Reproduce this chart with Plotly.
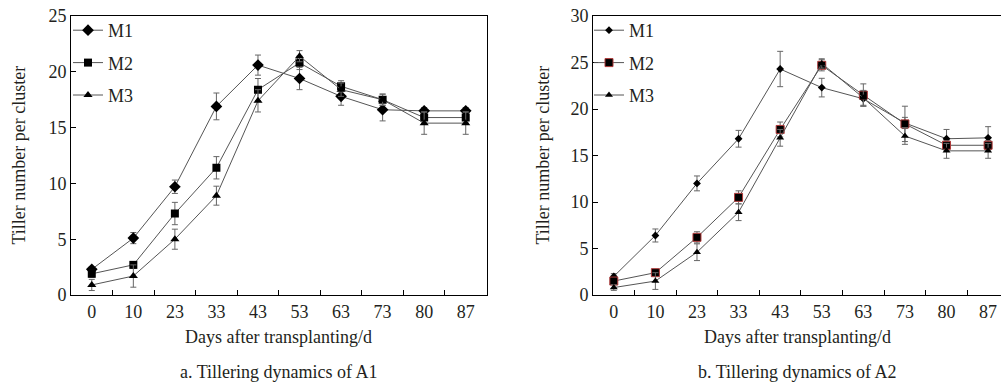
import plotly.graph_objects as go

days = ["0", "10", "23", "33", "43", "53", "63", "73", "80", "87"]
series_names = ["M1", "M2", "M3"]

# Panel a: A1
a_m1 = [2.3, 5.1, 9.7, 16.9, 20.6, 19.4, 17.8, 16.6, 16.5, 16.5]
a_m2 = [1.9, 2.7, 7.3, 11.4, 18.4, 20.8, 18.7, 17.5, 15.9, 15.9]
a_m3 = [0.9, 1.7, 5.0, 8.9, 17.4, 21.4, 18.4, 17.5, 15.4, 15.4]
a_m1_err = [0.2, 0.5, 0.6, 1.2, 0.9, 1.0, 0.8, 1.0, 0.3, 0.3]
a_m2_err = [0.3, 0.3, 1.0, 1.0, 1.0, 0.6, 0.5, 0.5, 0.5, 0.5]
a_m3_err = [0.5, 1.0, 0.9, 0.85, 1.0, 0.5, 0.6, 0.5, 1.0, 1.0]

# Panel b: A2
b_m1 = [2.0, 6.4, 12.0, 16.8, 24.3, 22.3, 21.1, 18.5, 16.8, 16.9]
b_m2 = [1.5, 2.4, 6.2, 10.5, 17.8, 24.7, 21.5, 18.4, 16.1, 16.1]
b_m3 = [0.8, 1.5, 4.6, 8.9, 16.9, 24.9, 21.2, 17.1, 15.5, 15.5]
b_m1_err = [0.3, 0.7, 0.8, 0.9, 1.9, 1.0, 0.8, 0.6, 1.0, 1.2]
b_m2_err = [0.3, 0.3, 0.6, 0.7, 0.8, 0.6, 1.2, 1.9, 0.5, 0.5]
b_m3_err = [0.3, 0.9, 0.9, 0.9, 0.9, 0.5, 0.8, 0.9, 0.8, 0.8]

W, H = 1001, 383


def px(x):
    return x / W


def py(y):
    return 1 - y / H


FONT = "Liberation Serif, Times New Roman, serif"
TXT = "#231f20"
LINE = "#555555"
ERR = "#666666"

fig = go.Figure()


def add(xaxis, yaxis, legend, name, y, err, symbol, size, mline_color, mline_w):
    fig.add_trace(go.Scatter(
        x=days, y=y, name=name, mode="lines+markers",
        xaxis=xaxis, yaxis=yaxis, legend=legend,
        line=dict(color=LINE, width=1),
        marker=dict(symbol=symbol, size=size, color="#000000",
                    line=dict(color=mline_color, width=mline_w)),
        error_y=dict(type="data", array=err, visible=True,
                     color=ERR, thickness=1, width=3),
    ))


add("x", "y", "legend", "M1", a_m1, a_m1_err, "diamond", 9, "#000000", 0)
add("x", "y", "legend", "M2", a_m2, a_m2_err, "square", 8, "#000000", 0)
add("x", "y", "legend", "M3", a_m3, a_m3_err, "triangle-up", 8, "#000000", 0)
add("x2", "y2", "legend2", "M1", b_m1, b_m1_err, "diamond", 6, "#000000", 0)
add("x2", "y2", "legend2", "M2", b_m2, b_m2_err, "square", 8, "#b03a3a", 1)
add("x2", "y2", "legend2", "M3", b_m3, b_m3_err, "triangle-up", 7, "#000000", 0)

y_top = py(16)
y_bot = py(295)

xcommon = dict(type="category", categoryorder="array", categoryarray=days,
               tickson="boundaries", ticks="inside", ticklen=5, tickwidth=1,
               tickcolor="#000", showline=True, linecolor="#000", linewidth=1,
               mirror=True, showgrid=False, zeroline=False, automargin=False,
               ticklabeloverflow="allow",
               tickfont=dict(family=FONT, size=18, color=TXT))
ycommon = dict(ticks="inside", ticklen=5, tickwidth=1, tickcolor="#000",
               showline=True, linecolor="#000", linewidth=1,
               showgrid=False, zeroline=False, automargin=False,
               ticklabeloverflow="allow",
               tickfont=dict(family=FONT, size=18, color=TXT))

fig.update_layout(
    width=W, height=H,
    margin=dict(l=0, r=0, t=0, b=0, autoexpand=False),
    paper_bgcolor="white", plot_bgcolor="white",
    font=dict(family=FONT, size=18, color=TXT),
    xaxis=dict(domain=[px(71), px(486.5)], anchor="y", range=[-0.5, 9.5], **xcommon),
    yaxis=dict(domain=[y_bot, y_top], anchor="x", range=[0, 25], dtick=5,
               mirror=True, **ycommon),
    xaxis2=dict(domain=[px(593), 1.0], anchor="y2", range=[-0.5, 9.31], **xcommon),
    yaxis2=dict(domain=[y_bot, y_top], anchor="x2", range=[0, 30], dtick=5,
                mirror=False, **ycommon),
    legend=dict(x=px(68), y=py(12), xanchor="left", yanchor="top",
                bgcolor="rgba(0,0,0,0)", tracegroupgap=6,
                font=dict(family=FONT, size=18, color=TXT), itemwidth=30),
    legend2=dict(x=px(589), y=py(12), xanchor="left", yanchor="top",
                 bgcolor="rgba(0,0,0,0)", tracegroupgap=6,
                 font=dict(family=FONT, size=18, color=TXT), itemwidth=30),
    showlegend=True,
)
for i, tr in enumerate(fig.data):
    tr.legendgroup = f"g{i}"

mid_y = (y_top + y_bot) / 2
ann = [
    dict(text="Tiller number per cluster", x=px(18), y=mid_y, textangle=-90),
    dict(text="Tiller number per cluster", x=px(542), y=mid_y, textangle=-90),
    dict(text="Days after transplanting/d", x=px(278.5), y=py(337)),
    dict(text="Days after transplanting/d", x=px(797), y=py(337)),
    dict(text="a. Tillering dynamics of A1", x=px(278.5), y=py(372)),
    dict(text="b. Tillering dynamics of A2", x=px(797), y=py(372)),
]
for a in ann:
    fig.add_annotation(xref="paper", yref="paper", showarrow=False,
                       xanchor="center", yanchor="middle",
                       font=dict(family=FONT, size=18, color=TXT), **a)

fig.write_html(
    "out.html",
    config={"displayModeBar": False},
    post_script="document.body.style.margin='0';document.body.style.overflow='hidden';",
)
